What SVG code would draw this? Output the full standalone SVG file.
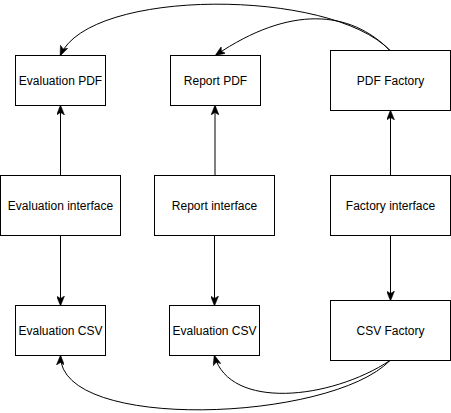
<svg xmlns="http://www.w3.org/2000/svg" width="451" height="413" viewBox="0 0 451 413">
<style>
.box{fill:#fff;stroke:#000;stroke-width:1}
.lbl{font-family:"Liberation Sans",Arial,sans-serif;font-size:12px;fill:#000;text-anchor:middle;dominant-baseline:central}
.edge{fill:none;stroke:#000;stroke-width:1;marker-end:url(#arr)}
</style>
<defs>
<marker id="arr" viewBox="0 0 10 8" refX="9" refY="4" markerWidth="10" markerHeight="8" markerUnits="userSpaceOnUse" orient="auto">
<path d="M0,0 L10,4 L0,8 L2.5,4 Z" fill="#000" stroke="#000" stroke-width="0.5"/>
</marker>
</defs>
<rect width="451" height="413" fill="#fff"/>
<g id="connectors">
<path class="edge" d="M60.5,175.5 L60.5,106"/>
<path class="edge" d="M215,175.5 L215,106"/>
<path class="edge" d="M390.5,175.5 L390.5,111"/>
<path class="edge" d="M60.5,235.5 L60.5,305"/>
<path class="edge" d="M214.5,235.5 L214.5,305"/>
<path class="edge" d="M390.5,235.5 L390.5,300"/>
<path class="edge" d="M390,50.5 C330,-12 90,-12 60.5,55"/>
<path class="edge" d="M390,50.5 C350,10 290,5 216,55"/>
<path class="edge" d="M390,360.5 C330,400 230,410 214.5,356"/>
<path class="edge" d="M390,360.5 C330,422 60,432 60.5,356"/>
</g>
<g id="evaluation-pdf"><rect class="box" x="15.5" y="55.5" width="90" height="50"/><text class="lbl" x="60.5" y="80.5">Evaluation PDF</text></g>
<g id="report-pdf"><rect class="box" x="170.5" y="55.5" width="90" height="50"/><text class="lbl" x="215.5" y="80.5">Report PDF</text></g>
<g id="pdf-factory"><rect class="box" x="330.5" y="50.5" width="120" height="60"/><text class="lbl" x="390.5" y="80.5">PDF Factory</text></g>
<g id="evaluation-interface"><rect class="box" x="0.5" y="175.5" width="120" height="60"/><text class="lbl" x="60.5" y="205.5">Evaluation interface</text></g>
<g id="report-interface"><rect class="box" x="154.5" y="175.5" width="120" height="60"/><text class="lbl" x="214.5" y="205.5">Report interface</text></g>
<g id="factory-interface"><rect class="box" x="330.5" y="175.5" width="120" height="60"/><text class="lbl" x="390.5" y="205.5">Factory interface</text></g>
<g id="evaluation-csv-1"><rect class="box" x="15.5" y="305.5" width="90" height="50"/><text class="lbl" x="60.5" y="330.5">Evaluation CSV</text></g>
<g id="evaluation-csv-2"><rect class="box" x="169.5" y="305.5" width="90" height="50"/><text class="lbl" x="214.5" y="330.5">Evaluation CSV</text></g>
<g id="csv-factory"><rect class="box" x="330.5" y="300.5" width="120" height="60"/><text class="lbl" x="390.5" y="330.5">CSV Factory</text></g>
</svg>
